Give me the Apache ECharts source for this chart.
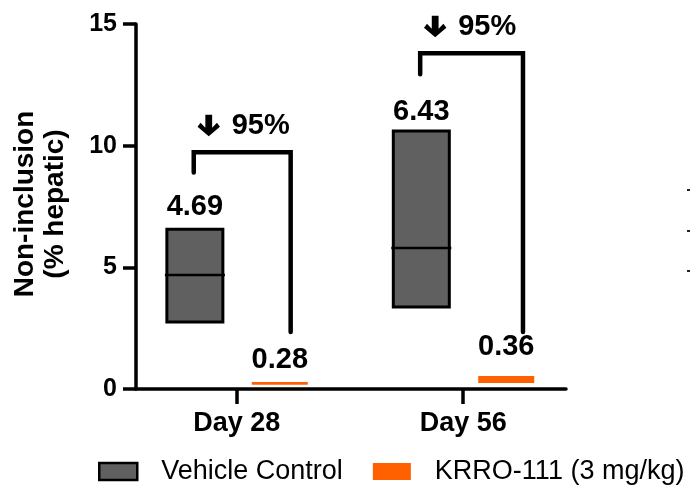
<!DOCTYPE html>
<html>
<head>
<meta charset="utf-8">
<script src="https://cdn.jsdelivr.net/npm/echarts@6/dist/echarts.min.js"></script>
<style>
html,body{margin:0;padding:0;background:#fff;}
#chart{width:690px;height:486px;}
</style>
</head>
<body>
<div id="chart"></div>
<script>
// ---- data ----
const categories = ['Day 28', 'Day 56'];
const yTicks = [0, 5, 10, 15];
const vehicleLow = [2.75, 3.37];
const vehicleHigh = [6.57, 10.6];
const vehicleMedian = [4.68, 5.79];
const vehicleLabels = ['4.69', '6.43'];
const krroLow = [0.17, 0.25];
const krroHigh = [0.29, 0.53];
const krroLabels = ['0.28', '0.36'];
const reductionLabels = ['95%', '95%'];
const bracketTop = [9.73, 13.8];
const bracketLeftEnd = [8.9, 12.94];
const bracketRightEnd = [2.34, 2.34];

// ---- layout constants ----
const FONT = "'Liberation Sans', Arial, Helvetica, sans-serif";
const vehicleOffset = -0.185;
const krroOffset = 0.19;
const bracketLeftOffset = -0.19;
const bracketRightOffset = [0.238, 0.264];
const vehicleLabelGap = [22, 19];
const krroLabelGap = [22, 29];
const BAR_W = 56;
const GREY = '#606060';
const ORANGE = '#ff6000';

const vehicleData = categories.map((c, i) => [i + 1 + vehicleOffset, vehicleLow[i], vehicleHigh[i], vehicleMedian[i], vehicleLabels[i]]);
const krroData = categories.map((c, i) => [i + 1 + krroOffset, krroLow[i], krroHigh[i], null, krroLabels[i]]);
const bracketData = categories.map((c, i) => [i + 1 + bracketLeftOffset, i + 1 + bracketRightOffset[i], bracketTop[i], bracketLeftEnd[i], bracketRightEnd[i], reductionLabels[i]]);

const chart = echarts.init(document.getElementById('chart'));

function boxRender(fill, border, withMedian, labelGapArr) {
  return function (params, api) {
    const x = api.value(0);
    const lo = api.coord([x, api.value(1)]);
    const hi = api.coord([x, api.value(2)]);
    const children = [];
    children.push({
      type: 'rect',
      shape: { x: lo[0] - BAR_W / 2, y: hi[1], width: BAR_W, height: Math.max(lo[1] - hi[1], 1) },
      style: { fill: fill, stroke: border ? '#000' : null, lineWidth: border ? 3 : 0 }
    });
    if (withMedian) {
      const md = api.coord([x, api.value(3)]);
      children.push({
        type: 'line',
        shape: { x1: md[0] - BAR_W / 2 - 2, y1: md[1], x2: md[0] + BAR_W / 2 + 2, y2: md[1] },
        style: { stroke: '#000', lineWidth: 2.5 }
      });
    }
    const gap = labelGapArr[params.dataIndex];
    children.push({
      type: 'text',
      style: {
        text: api.value(4) + '', x: hi[0], y: hi[1] - gap,
        align: 'center', verticalAlign: 'middle',
        font: 'bold 29px ' + FONT, fill: '#000'
      }
    });
    return { type: 'group', children: children };
  };
}

function bracketRender(params, api) {
  const xl = api.value(0), xr = api.value(1);
  const top = api.coord([xl, api.value(2)]);
  const lEnd = api.coord([xl, api.value(3)]);
  const rTop = api.coord([xr, api.value(2)]);
  const rEnd = api.coord([xr, api.value(4)]);
  const ax = top[0] + 15, ay = top[1] - 27;
  const arrowPts = [[-3.4,-10.5],[3.4,-10.5],[3.4,2.5],[8.2,-2.5],[11.2,1.5],[0,11],[-11.2,1.5],[-8.2,-2.5],[-3.4,2.5]]
    .map(p => [ax + p[0], ay + p[1]]);
  return {
    type: 'group',
    children: [
      {
        type: 'polyline',
        shape: { points: [lEnd, top, rTop, rEnd] },
        style: { stroke: '#000', lineWidth: 4.5, fill: null, lineCap: 'round', lineJoin: 'miter' }
      },
      { type: 'polygon', shape: { points: arrowPts }, style: { fill: '#000' } },
      {
        type: 'text',
        style: {
          text: api.value(5) + '', x: top[0] + 67, y: top[1] - 26,
          align: 'center', verticalAlign: 'middle',
          font: 'bold 29px ' + FONT, fill: '#000'
        }
      }
    ]
  };
}

const option = {
  animation: false,
  backgroundColor: '#fff',
  grid: { left: 136, right: 124, top: 24, bottom: 97, containLabel: false },
  xAxis: {
    type: 'value', min: 0.555, max: 2.454,
    axisLine: { show: true, lineStyle: { color: '#000', width: 3.5 } },
    axisTick: { show: true, customValues: [1, 2], length: 15, lineStyle: { color: '#000', width: 3.5 } },
    axisLabel: {
      customValues: [1, 2], margin: 21,
      formatter: v => categories[Math.round(v) - 1] || '',
      color: '#000', fontWeight: 'bold', fontSize: 27, fontFamily: FONT
    },
    splitLine: { show: false }
  },
  yAxis: {
    type: 'value', min: 0, max: 15, interval: 5,
    axisLine: { show: true, lineStyle: { color: '#000', width: 3.5 } },
    axisTick: { show: true, length: 13, lineStyle: { color: '#000', width: 3.5 } },
    axisLabel: { margin: 19, color: '#000', fontWeight: 'bold', fontSize: 25, fontFamily: FONT,
      formatter: v => yTicks.indexOf(v) >= 0 ? String(v) : '' },
    splitLine: { show: false }
  },
  legend: {
    left: 93, top: 453,
    itemWidth: 38, itemHeight: 17, itemGap: 30,
    textStyle: { fontSize: 27, color: '#000', fontFamily: FONT, padding: [0, 0, 0, 19] },
    data: [
      { name: 'Vehicle Control', icon: 'rect', itemStyle: { color: GREY, borderColor: '#000', borderWidth: 2.5 } },
      { name: 'KRRO-111 (3 mg/kg)', icon: 'rect', itemStyle: { color: ORANGE, borderWidth: 0 } }
    ]
  },
  graphic: [
    {
      type: 'text', x: 40, y: 204, rotation: Math.PI / 2,
      style: {
        text: 'Non-inclusion\n(% hepatic)', align: 'center', verticalAlign: 'middle',
        font: 'bold 28px ' + FONT, fill: '#000', lineHeight: 30
      }
    },
    { type: 'rect', shape: { x: 687, y: 189, width: 3, height: 2 }, style: { fill: '#222' } },
    { type: 'rect', shape: { x: 687, y: 230, width: 3, height: 2 }, style: { fill: '#222' } },
    { type: 'rect', shape: { x: 687, y: 270, width: 3, height: 2 }, style: { fill: '#222' } }
  ],
  series: [
    {
      name: 'Vehicle Control', type: 'custom', itemStyle: { color: GREY },
      encode: { x: 0, y: [1, 2] },
      renderItem: boxRender(GREY, true, true, vehicleLabelGap), data: vehicleData
    },
    {
      name: 'KRRO-111 (3 mg/kg)', type: 'custom', itemStyle: { color: ORANGE },
      encode: { x: 0, y: [1, 2] },
      renderItem: boxRender(ORANGE, false, false, krroLabelGap), data: krroData
    },
    {
      name: 'brackets', type: 'custom', silent: true,
      encode: { x: [0, 1], y: [2, 3, 4] },
      renderItem: bracketRender, data: bracketData
    }
  ]
};
chart.setOption(option);
</script>
</body>
</html>
